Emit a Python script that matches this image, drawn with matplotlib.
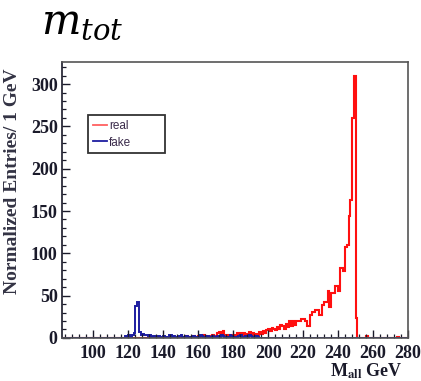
import numpy as np
import matplotlib
matplotlib.use("Agg")
import matplotlib.pyplot as plt
from matplotlib.lines import Line2D
from matplotlib.ticker import MultipleLocator

# 1 GeV bins, first bin edge given by *_start
real_start = 150
real_counts = [0, 1, 0, 2, 0, 1, 0, 2, 1, 0,
               2, 0, 1, 3, 2, 1, 0, 2, 3, 1,
               2, 6, 7, 4, 8, 3, 4, 2, 3, 1,
               4, 2, 6, 5, 6, 3, 6, 4, 5, 7,
               4, 6, 3, 5, 4, 7, 5, 8, 6, 9,
               10, 8, 12, 11, 9, 13, 10, 15, 14, 10,
               17, 13, 20, 14, 20, 15, 20, 20, 20, 22,
               22, 20, 14, 14, 27, 31, 31, 33, 33, 27,
               27, 39, 43, 43, 55, 36, 53, 53, 61, 61,
               55, 83, 83, 79, 108, 110, 144, 163, 260, 310,
               23, 0, 0, 0, 0, 0, 2, 0, 0, 0,
               0, 0, 0, 0, 0, 0, 0, 0, 0, 0,
               0, 0, 0, 0, 1]

fake_start = 118
fake_counts = [2, 0, 3, 1, 3, 6, 38, 42, 7, 4,
               5, 3, 4, 2, 3, 1, 2, 0, 1, 2,
               0, 1, 2, 1, 0, 3, 4, 1, 2, 0,
               1, 2, 3, 1, 0, 2, 1, 0, 1, 2,
               0, 1, 1, 3, 2, 1, 0, 2, 1, 0,
               2, 1, 0, 2, 1, 3, 2, 1, 0, 1,
               3, 2, 1, 0, 1, 2, 3, 1, 0, 2,
               1, 3, 2, 1, 0, 2, 1, 0]

x_min, x_max = 82, 280
y_max = 326

edges = np.arange(x_min, x_max + 1)
real = np.zeros(len(edges) - 1)
real[real_start - x_min:real_start - x_min + len(real_counts)] = real_counts
fake = np.zeros(len(edges) - 1)
fake[fake_start - x_min:fake_start - x_min + len(fake_counts)] = fake_counts

red = "#ff1010"
blue = "#1c1ca0"
ink = "#1a1a2a"
serif = "Liberation Serif"

fig = plt.figure(figsize=(4.21, 3.81), dpi=100)
ax = fig.add_axes([0.147, 0.113, 0.822, 0.724])

ax.stairs(real, edges, color=red, lw=1.5)
ax.stairs(fake, edges, color=blue, lw=1.4)

ax.set_xlim(x_min, x_max)
ax.set_ylim(0, y_max)

ax.xaxis.set_major_locator(MultipleLocator(20))
ax.xaxis.set_minor_locator(MultipleLocator(4))
ax.yaxis.set_major_locator(MultipleLocator(50))
ax.yaxis.set_minor_locator(MultipleLocator(10))
ax.tick_params(which="both", direction="in", colors=ink, top=False, right=False)
ax.tick_params(which="major", length=5.5, width=1.0, labelsize=13, pad=3)
ax.tick_params(which="minor", length=3, width=0.9)
ax.tick_params(axis="x", which="major", pad=5)
for lab in ax.get_xticklabels() + ax.get_yticklabels():
    lab.set_family(serif)
    lab.set_fontweight("bold")

for s in ax.spines.values():
    s.set_color("#555555")
    s.set_linewidth(1.2)
ax.spines["left"].set_color(ink)

ax.set_ylabel("Normalized Entries/ 1 GeV", family=serif, fontweight="bold",
              fontsize=14, color="#333344")
ax.yaxis.set_label_coords(-0.118, 0.57)

ax.set_xlabel(r"M$_{\mathbf{all}}$ GeV", family=serif, fontweight="bold",
              fontsize=13, color=ink, loc="right", math_fontfamily="stix")
ax.xaxis.set_label_coords(0.985, -0.085)

handles = [Line2D([], [], color="#ff6060", lw=1.3),
           Line2D([], [], color=blue, lw=1.3)]
leg = ax.legend(handles, ["real", "fake"], loc="upper left",
                bbox_to_anchor=(0.075, 0.678, 0.223, 0.13), mode="expand",
                prop={"family": "Liberation Sans", "size": 8.5}, frameon=True,
                fancybox=False, handlelength=1.2, handletextpad=0.2,
                borderpad=0.4, labelspacing=0.4, borderaxespad=0)
leg.get_frame().set_edgecolor("black")
leg.get_frame().set_linewidth(1.3)
for t in leg.get_texts():
    t.set_color("#3a2a4a")

fig.text(0.098, 0.912, r"$m_{tot}$", fontsize=30,
         math_fontfamily="dejavuserif", color="black")

fig.savefig("out.png", dpi=100)
